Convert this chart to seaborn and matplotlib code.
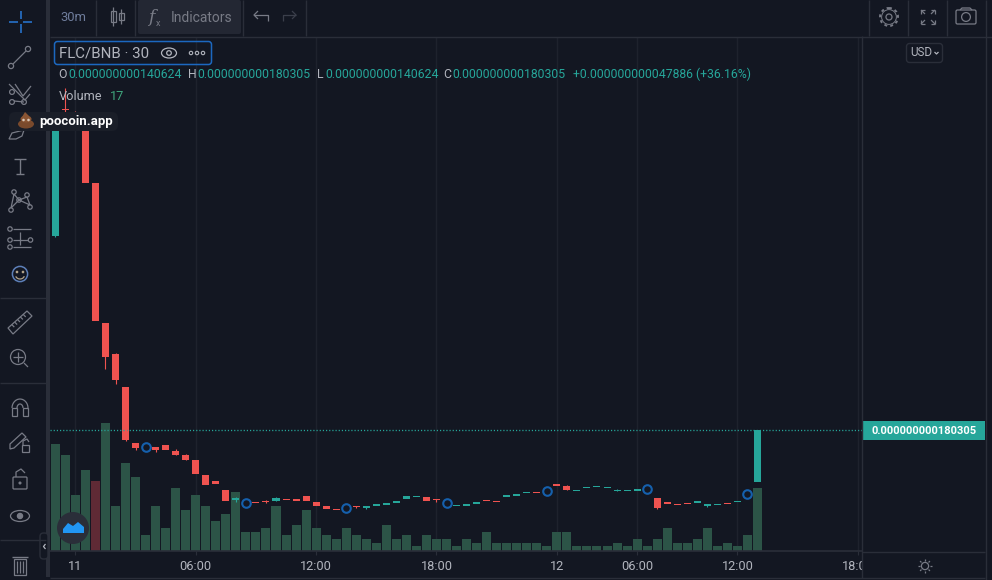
import numpy as np
import pandas as pd
import seaborn as sns
from matplotlib import pyplot as plt
from matplotlib.patches import Circle, Ellipse, FancyBboxPatch, Polygon, Rectangle

BG = "#131722"
EDGE = "#2a2e39"
GRID = "#1e222d"
ICON = "#787b86"
TEXT = "#b2b5be"
UP = "#26a69a"
DOWN = "#ef5350"
VOL_UP = "#2c5447"
VOL_DOWN = "#5f2a35"
BLUE = "#2196f3"

# prices are in 1e-12 BNB
body_top = [421.3, 426.3, 422.8, 419.8, 369.9, 262.4, 238.6, 213.3, 170.3, 168.0, 167.3, 168.8,
            164.2, 161.1, 157.3, 145.8, 141.2, 134.2, 128.1, 125.0, 125.0, 125.8, 128.1, 127.3,
            127.3, 129.6, 125.0, 122.0, 119.7, 120.4, 122.0, 122.0, 123.5, 124.3, 125.8, 129.6,
            129.6, 128.9, 127.3, 124.3, 122.7, 123.5, 125.0, 126.6, 125.8, 130.4, 131.2, 132.7,
            132.7, 133.5, 138.9, 137.3, 134.2, 136.6, 137.3, 136.6, 134.2, 134.2, 135.0, 135.0,
            128.1, 125.0, 123.5, 124.3, 125.8, 123.5, 123.5, 124.3, 125.8, 131.2, 180.3]
body_bottom = [329.2, 425.5, 421.3, 370.1, 264.2, 236.6, 218.9, 172.6, 166.7, 166.5, 165.0, 165.0,
               161.1, 157.3, 146.5, 138.1, 138.9, 125.8, 126.6, 124.3, 124.3, 125.0, 125.8, 126.6,
               125.8, 125.8, 122.0, 119.7, 118.9, 119.7, 121.2, 120.4, 122.0, 122.7, 124.3, 127.3,
               128.9, 125.8, 126.6, 123.5, 122.0, 122.0, 123.5, 125.8, 125.0, 128.9, 129.6, 131.9,
               131.9, 132.7, 137.3, 134.2, 133.5, 135.8, 136.6, 135.8, 133.5, 133.5, 133.5, 134.2,
               120.4, 123.5, 122.7, 123.5, 124.3, 122.0, 122.7, 123.5, 125.0, 130.4, 140.6]
rising = [1, 0, 0, 0, 0, 0, 0, 0, 0, 0, 0, 0,
          0, 0, 0, 0, 0, 0, 1, 0, 0, 0, 1, 0,
          0, 0, 0, 0, 0, 0, 0, 1, 1, 1, 1, 1,
          1, 0, 0, 0, 1, 1, 1, 0, 0, 1, 1, 1,
          0, 1, 0, 0, 1, 1, 1, 1, 1, 1, 1, 1,
          0, 0, 0, 0, 1, 1, 1, 0, 1, 1, 1]
# wicks only where they stick out of the body: candle -> (high, low)
wicks = {0: (421.3, 328.4), 1: (442.8, 423.6), 2: (425.1, 412.9), 5: (262.4, 227.3),
         6: (239.4, 215.8), 7: (213.3, 171.9), 8: (170.3, 165.0), 10: (167.3, 163.4),
         12: (165.5, 161.1), 13: (161.9, 157.3), 18: (128.9, 125.3), 21: (126.6, 124.3),
         22: (128.9, 125.8), 30: (122.0, 120.4), 31: (122.0, 119.7), 38: (127.3, 125.3),
         51: (138.1, 134.2), 56: (135.2, 133.5), 60: (128.1, 119.7), 65: (123.5, 121.2)}
volume = [28.9, 25.9, 15.1, 21.9, 18.9, 34.5, 12.1, 23.7, 20.0, 4.3, 12.1, 6.2,
          17.0, 11.1, 15.1, 12.1, 8.1, 10.0, 15.9, 5.1, 5.1, 6.2, 12.1, 4.3,
          7.0, 11.1, 6.2, 4.3, 3.2, 6.2, 4.3, 3.2, 2.2, 7.0, 3.2, 4.3,
          1.3, 4.3, 3.2, 3.2, 1.3, 3.2, 2.2, 5.1, 2.2, 2.2, 2.2, 2.2,
          2.2, 1.3, 5.1, 5.1, 1.3, 1.3, 1.3, 1.3, 2.2, 1.3, 3.2, 1.3,
          3.2, 6.2, 2.2, 2.2, 3.2, 6.2, 1.3, 2.2, 1.3, 4.3, 17.0]
vol_rising = [1, 1, 1, 1, 0] + [1] * 66
trade_idx = [9, 19, 29, 39, 49, 59, 69]
trade_price = [167.0, 124.5, 120.2, 124.0, 133.3, 134.8, 130.9]
tick_idx = [2, 14, 26, 38, 50, 58, 68, 80]
tick_labels = ["11", "06:00", "12:00", "18:00", "12", "06:00", "12:00", "18:00"]

sns.set_theme(style="dark")
plt.rcParams["font.family"] = ["Roboto", "DejaVu Sans"]
plt.rcParams["axes.unicode_minus"] = False

fig = plt.figure(figsize=(9.92, 5.80), dpi=100, facecolor=BG)
ax = fig.add_axes([50 / 992, 29 / 580, 812 / 992, 514 / 580], facecolor=BG)
X_RANGE = (-0.53, 80.42)

# volume histogram
vol_df = pd.DataFrame({"idx": np.arange(len(volume)), "volume": volume,
                       "side": ["up" if r else "down" for r in vol_rising]})
sns.barplot(data=vol_df, x="idx", y="volume", hue="side", native_scale=True, dodge=False,
            palette={"up": VOL_UP, "down": VOL_DOWN}, width=0.9, saturation=1,
            legend=False, linewidth=0, ax=ax)
ax.set_ylim(0, 138.7)
ax.set_xlim(*X_RANGE)
ax.set_xticks(tick_idx)
ax.set_xticklabels(tick_labels, color=TEXT, fontsize=9.2)
ax.set_yticks([])
ax.set_xlabel(None)
ax.set_ylabel(None)
ax.tick_params(axis="x", length=3, width=0.8, color=EDGE, pad=3.5, bottom=True)
ax.grid(axis="x", color=GRID, lw=1)
ax.set_axisbelow(True)
for side, spine in ax.spines.items():
    spine.set_visible(side == "bottom")
    spine.set_color(EDGE)

# candles on the price scale
price = ax.twinx()
price.patch.set_visible(False)
candles = pd.DataFrame({"idx": np.arange(len(body_top)), "top": body_top, "bottom": body_bottom,
                        "rising": rising})
candles["height"] = candles["top"] - candles["bottom"]
for flag, colour in [(1, UP), (0, DOWN)]:
    part = candles[candles["rising"] == flag]
    sns.barplot(data=part, x="idx", y="height", bottom=part["bottom"].values, native_scale=True,
                color=colour, width=0.7, saturation=1, linewidth=0, ax=price)
for i, (hi, lo) in wicks.items():
    price.vlines(i, lo, hi, color=UP if rising[i] else DOWN, lw=0.8, zorder=1.5)

price.axhline(body_top[-1], color=UP, ls=(0, (0.9, 1.5)), lw=0.95, zorder=1)
sns.scatterplot(x=trade_idx, y=trade_price, s=38, color=BG, edgecolor="#1560ad", linewidth=1.5,
                ax=price, zorder=5, clip_on=False)
price.set_ylim(87.4, 481.9)
price.set_xlim(*X_RANGE)
price.set_yticks([])
price.set_ylabel(None)
price.grid(False)
for spine in price.spines.values():
    spine.set_visible(False)

# interface around the chart, laid out in pixels
ui = fig.add_axes([0, 0, 1, 1], facecolor="none")
ui.set_xlim(0, 992)
ui.set_ylim(580, 0)
ui.axis("off")


def ln(xs, ys, color=ICON, lw=0.9, **kw):
    ui.plot(xs, ys, color=color, lw=lw, solid_capstyle="butt", **kw)


def ring(x, y, r, color=ICON, lw=0.9, face="none", **kw):
    ui.add_patch(Circle((x, y), r, fc=face, ec=color, lw=lw, **kw))


def box(x, y, w, h, face="none", edge=ICON, lw=0.9, r=0):
    if r:
        ui.add_patch(FancyBboxPatch((x, y), w, h, boxstyle=f"round,pad=0,rounding_size={r}",
                                    fc=face, ec=edge, lw=lw))
    else:
        ui.add_patch(Rectangle((x, y), w, h, fc=face, ec=edge, lw=lw))


def txt(x, y, s, color=TEXT, size=9, **kw):
    kw.setdefault("va", "center")
    ui.text(x, y, s, color=color, fontsize=size, **kw)


# frame, the price scale hides the last time label
box(46, 0, 4, 580, face=EDGE, edge="none")
box(862, 552, 130, 28, face=BG, edge="none")
box(0, 577, 992, 3, face=BG, edge="none")
ln([50, 992], [36.5, 36.5], EDGE, 1)
ln([50, 985], [578, 578], EDGE, 1)
ln([862, 862], [36, 578], EDGE, 1)
ln([985.5, 985.5], [0, 580], EDGE, 1)
ln([862, 985], [551.5, 551.5], EDGE, 1)
for sx in [96, 135, 243, 306, 869, 908, 947]:
    ln([sx, sx], [0, 36], EDGE, 1)
for sy in [298, 383, 540]:
    ln([0, 46], [sy, sy], EDGE, 1)

# top toolbar
txt(60, 17.5, "30m", "#6f7d9c", 9.4)
box(138, 0, 103, 34, face="#232733", edge="none", r=2)
txt(171, 17.5, "Indicators", ICON, 10)
txt(148, 18, "f", ICON, 12.5, style="italic", family="DejaVu Serif")
txt(156, 23, "x", ICON, 6.5)
for cx, y0, y1 in [(110.5, 11, 22), (118.5, 13, 20)]:
    ln([cx + 2.5, cx + 2.5], [y0 - 4, y1 + 4])
    box(cx, y0, 5, y1 - y0)
ln([254, 268, 268], [15, 15, 21], ICON)
ln([258, 254, 258], [11, 15, 19], ICON)
ln([296, 283, 283], [15, 15, 21], "#3b3f4b")
ln([292, 296, 292], [11, 15, 19], "#3b3f4b")

# gear, full screen, camera
ring(889, 17, 3)
ring(889, 17, 9, lw=1.4, ls=(0, (1.5, 1.6)))
ring(889, 17, 7.4, color=ICON, lw=0.7)
for sx, sy in [(-1, -1), (1, -1), (-1, 1), (1, 1)]:
    ln([928 + sx * 3, 928 + sx * 7], [17 + sy * 3, 17 + sy * 7])
    ln([928 + sx * 7, 928 + sx * 7], [17 + sy * 3, 17 + sy * 7])
    ln([928 + sx * 3, 928 + sx * 7], [17 + sy * 7, 17 + sy * 7])
box(956, 10, 20, 14, r=1.5)
ring(966, 17, 4.4)
ln([960, 962, 970, 972], [10, 8, 8, 10])

# legend of the series
box(54.5, 41.5, 157, 23, edge="#1c68c0", lw=1.1, r=3)
txt(59, 53.5, "FLC/BNB · 30", TEXT, 10.8)
ui.add_patch(Ellipse((169, 53), 15, 10, fc="none", ec=TEXT, lw=0.9))
ring(169, 53, 2.3, TEXT)
for dx in [191, 197, 203]:
    ring(dx, 53, 1.7, TEXT, 0.8)
txt(58, 74, "O", TEXT, 8.8)
txt(68, 74, "0.000000000140624", UP, 8.8)
txt(188, 74, "H", TEXT, 8.8)
txt(197, 74, "0.000000000180305", UP, 8.8)
txt(317, 74, "L", TEXT, 8.8)
txt(325, 74, "0.000000000140624", UP, 8.8)
txt(443, 74, "C", TEXT, 8.8)
txt(452, 74, "0.000000000180305", UP, 8.8)
txt(573, 74, "+0.000000000047886 (+36.16%)", UP, 8.8)
txt(59, 96.5, "Volume", TEXT, 9.2)
txt(110, 96.5, "17", "#3fa57c", 9.2)
box(906.5, 43.5, 36, 19, edge=EDGE, lw=1, r=3)
txt(910, 53, "USD", TEXT, 8.4)
ln([934.5, 936.5, 938.5], [52, 54, 52], TEXT)

# last price tag
box(862, 421, 123, 19, face=UP, edge="none")
txt(871, 430.5, "0.000000000180305", "white", 8.05, fontweight="bold")

# poocoin badge
box(9, 112, 109, 19, face="#1a1e28", edge="none", r=6)
ui.add_patch(Ellipse((26, 124), 16, 9, fc="#7a4a2c", ec="none"))
ui.add_patch(Ellipse((26, 119), 11, 7, fc="#8a5533", ec="none"))
ui.add_patch(Polygon([[22, 117], [25, 112], [29, 116]], fc="#8a5533", ec="none"))
ring(23.5, 120, 1.3, "none", face="#d8c8b8")
ring(28.5, 120, 1.3, "none", face="#d8c8b8")
txt(39, 121, "poocoin.app", "white", 9.5, fontweight="bold")

# left drawing tools
for xs, ys in [([9, 18], [22, 22]), ([23, 32], [22, 22]), ([20.5, 20.5], [11, 19]), ([20.5, 20.5], [24, 33])]:
    ln(xs, ys, "#2979d8", 1.1)
ring(11, 66, 2.6)
ring(28, 49, 2.6)
ln([13, 26], [64, 51])
ring(12, 92, 2.4)
ring(12, 102, 2.4)
ring(24, 102, 2.4)
ln([9, 25, 30], [84, 100, 94])
ln([14, 24], [101, 102])
ln([15, 23, 31], [84, 96, 86])
ui.add_patch(Polygon([[9, 139], [12, 133], [24, 130], [22, 136], [16, 139]], fc="none", ec=ICON, lw=0.9, zorder=0.5))
ln([14, 26], [159, 159], lw=1)
ln([20, 20], [159, 174], lw=1)
ln([16, 24], [174, 174], lw=1)
for px, py in [(14, 192), (27, 195), (11, 210), (19, 200), (30, 207)]:
    ring(px, py, 2.2)
ln([14, 19, 27, 30, 19, 11, 14], [194, 200, 197, 205, 200, 208, 194])
for py, x0, x1 in [(229, 13, 31), (240, 13, 28), (247, 13, 31)]:
    ring(10, py, 2.2)
    ln([x0, x1], [py, py])
ring(30.5, 240, 2.2)
ln([20, 20], [232, 245])
ring(20, 274, 7.6, "#5d7fb8", 1.1)
ring(17, 272, 0.7, "#b2a38a")
ring(23, 272, 0.7, "#b2a38a")
ln(20 + 4.5 * np.cos(np.linspace(0.3, 2.8, 12)), 275 + 4 * np.sin(np.linspace(0.3, 2.8, 12)), "#b2a38a")
ui.add_patch(Polygon([[8, 328], [27, 311], [32, 316], [13, 334]], fc="none", ec=ICON, lw=0.9))
for t in [0.2, 0.35, 0.5, 0.65, 0.8]:
    ln([8 + 19 * t, 10.5 + 19 * t], [328 - 17 * t, 330.5 - 17 * t])
ring(18, 357, 7.5)
ln([13, 23], [357, 357])
ln([18, 18], [352, 362])
ln([24, 28], [363, 367])
theta = np.linspace(np.pi, 2 * np.pi, 16)
ln(20 + 8 * np.cos(theta), 408 + 9 * np.sin(theta))
ln(20 + 3 * np.cos(theta), 408 + 4 * np.sin(theta))
box(12, 408, 5, 8)
box(23, 408, 5, 8)
ui.add_patch(Polygon([[10, 444], [22, 433], [26, 437], [14, 448], [10, 449]], fc="none", ec=ICON, lw=0.9))
box(22, 445, 7, 7)
ln([23, 23, 27, 29], [445, 441, 439, 442])
box(13, 477, 14, 12, r=1)
ln([16, 16, 21, 25], [477, 472, 469, 473])
ring(20, 483, 0.9, face=ICON)
ui.add_patch(Ellipse((20, 516), 19, 11, fc="none", ec=ICON, lw=0.9))
ring(20, 516, 2.6, face=ICON)
box(14, 559, 12, 16)
ln([12, 28], [557, 557], lw=1)
for lx in [17, 20, 23]:
    ln([lx, lx], [561, 573])

# collapse pill, logo and sun
box(40, 533, 8, 26, face=BG, edge=EDGE, lw=1, r=3.5)
ln([45.5, 43.5, 45.5], [544, 546.5, 549], TEXT)
ring(73, 528, 16, color="none", face="#2a2e39")
ui.add_patch(Polygon([[63, 533], [63, 529], [68, 523], [73, 526], [78, 522], [84, 527], [84, 533]],
                     fc=BLUE, ec="none"))
ring(925, 566, 3.6)
for a in np.linspace(0, 2 * np.pi, 8, endpoint=False):
    ln([925 + 5 * np.cos(a), 925 + 7 * np.cos(a)], [566 + 5 * np.sin(a), 566 + 7 * np.sin(a)])

fig.savefig("out.png", dpi=100, facecolor=BG)
